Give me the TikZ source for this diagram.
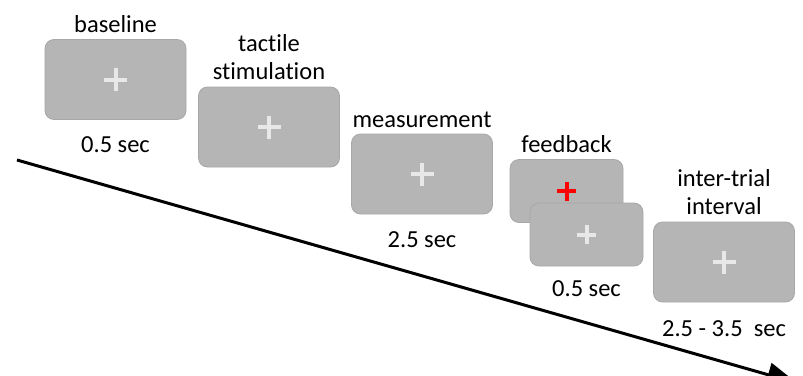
\documentclass[tikz,border=0pt]{standalone}
\usepackage{fontspec}
\setmainfont{Carlito}[Ligatures={NoCommon}]
\usetikzlibrary{arrows.meta,positioning,calc}
\definecolor{screen}{HTML}{B5B5B5}
\definecolor{screenedge}{HTML}{A8A8A8}
\definecolor{fixcol}{HTML}{E8E8E8}

\begin{document}
\begin{tikzpicture}[x=1pt, y=-1pt, every node/.style={font=\fontsize{24.5}{28}\selectfont},
  screenbox/.style={rectangle, draw=screenedge, line width=0.8pt, fill=screen, rounded corners=9pt,
    minimum width=141pt, minimum height=80pt},
  smallbox/.style={screenbox, minimum width=113pt, minimum height=63pt},
  lbl/.style={inner sep=0pt, align=center},
  fixcross/.style={line width=4pt, draw=fixcol},
]
\useasboundingbox (0,0) rectangle (803,375);

% time axis
\coordinate (t0) at (17,160);
\coordinate (t1) at (797,383);
\draw[line width=3pt, -{Triangle[length=30pt, width=24pt]}] (t0) -- (t1);

% screens
\node[screenbox] (base) at (115.5,79.5) {};
\node[screenbox] (tact) at (269,127) {};
\node[screenbox] (meas) at (422,174) {};
\node[smallbox] (fbA) at (566.5,191) {};
\node[smallbox] (fbB) at (586.5,234.5) {};
\node[screenbox] (iti) at (724,262) {};

% fixation crosses
\foreach \s in {base,tact,meas,iti}
  \draw[fixcross] ($(\s.center)+(-11.5,0)$) -- ($(\s.center)+(11.5,0)$)
                  ($(\s.center)+(0,-11.5)$) -- ($(\s.center)+(0,11.5)$);
\draw[fixcross, draw=red] ([xshift=-9.5pt]fbA.center) -- ([xshift=9.5pt]fbA.center)
                          ([yshift=-9.5pt]fbA.center) -- ([yshift=9.5pt]fbA.center);
\draw[fixcross] ([xshift=-9.5pt]fbB.center) -- ([xshift=9.5pt]fbB.center)
                ([yshift=-9.5pt]fbB.center) -- ([yshift=9.5pt]fbB.center);

% phase names
\node[lbl, above=6pt of base] (baseT) {baseline};
\node[lbl, above=7pt of tact] (tactT) {tactile\\stimulation};
\node[lbl, above=6pt of meas] (measT) {measurement};
\node[lbl, above=6pt of fbA] (fbT) {feedback};
\node[lbl, above=7pt of iti] (itiT) {inter-trial\\interval};

% durations
\node[lbl, below=16pt of base] (baseD) {0.5 sec};
\node[lbl, below=17pt of meas] (measD) {2.5 sec};
\node[lbl, below=14pt of fbB] (fbD) {0.5 sec};
\node[lbl, below=18pt of iti] (itiD) {2.5 - 3.5\ \ sec};

\end{tikzpicture}
\end{document}
